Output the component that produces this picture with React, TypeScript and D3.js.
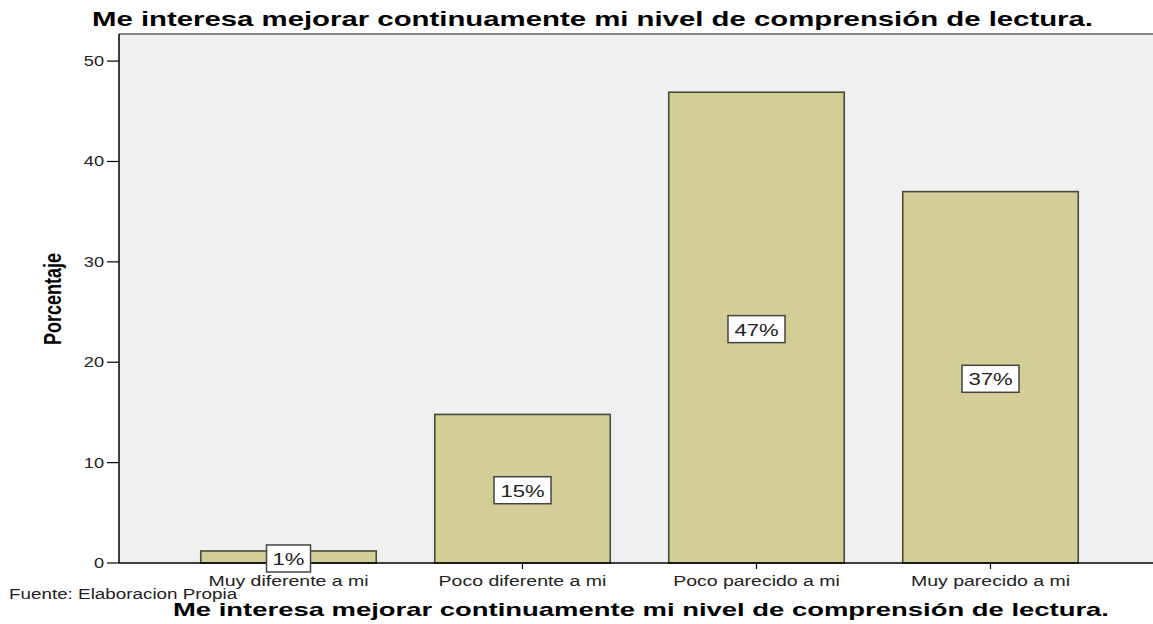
import React from "react";
import * as d3 from "d3";

const categories = ["Muy diferente a mi", "Poco diferente a mi", "Poco parecido a mi", "Muy parecido a mi"];
const values = [1.2, 14.8, 46.9, 37.0];
const valueLabels = ["1%", "15%", "47%", "37%"];
const yTicks = [0, 10, 20, 30, 40, 50];
const titleText = "Me interesa mejorar continuamente mi nivel de comprensión de lectura.";
const yAxisTitle = "Porcentaje";
const sourceText = "Fuente: Elaboracion Propia";

const W = 1153;
const H = 624;
const FONT = "Arial, 'Liberation Sans', sans-serif";
const SX = 1.3;

export default function App() {
  const plotLeft = 119;
  const plotTop = 34;
  const plotBottom = 563;
  const plotRight = 1153;

  const y = d3.scaleLinear().domain([0, 52.7]).range([plotBottom, plotTop]);
  const x = d3
    .scaleBand<string>()
    .domain(categories)
    .range([171.5, 1107.5])
    .paddingInner(0.25)
    .paddingOuter(0.125);

  return (
    <svg
      width={W}
      height={H}
      style={{ position: "absolute", left: 0, top: 0, background: "#fff" }}
      fontFamily={FONT}
    >
      <rect x={0} y={0} width={W} height={H} fill="#fff" />
      {/* Title */}
      <text
        x={92}
        y={26}
        textLength={1001}
        lengthAdjust="spacingAndGlyphs"
        fontWeight="bold"
        fontSize={21}
        fill="#000"
      >
        {titleText}
      </text>
      {/* plot background */}
      <rect x={plotLeft} y={plotTop} width={plotRight - plotLeft} height={plotBottom - plotTop} fill="#f0f0f0" />
      <line x1={plotLeft} x2={plotRight} y1={plotTop} y2={plotTop} stroke="#8a8a8a" strokeWidth={2} />
      {/* bars */}
      {categories.map((c, i) => (
        <g key={c}>
          <rect
            x={x(c)!}
            y={y(values[i])}
            width={x.bandwidth()}
            height={y(0) - y(values[i])}
            fill="#d3ce97"
            stroke="#4a4a3a"
            strokeWidth={1.6}
          />
        </g>
      ))}
      {/* axes */}
      <line x1={plotLeft} x2={plotLeft} y1={plotTop} y2={plotBottom} stroke="#000" strokeWidth={1.5} />
      <line x1={plotLeft} x2={plotRight} y1={plotBottom} y2={plotBottom} stroke="#000" strokeWidth={1.5} />
      {yTicks.map((t) => (
        <g key={t}>
          <line x1={107} x2={plotLeft} y1={y(t)} y2={y(t)} stroke="#000" strokeWidth={1.2} />
          <text
            transform={`translate(104,${y(t) + 5}) scale(${SX},1)`}
            textAnchor="end"
            fontSize={14}
            fill="#222"
          >
            {t}
          </text>
        </g>
      ))}
      {categories.map((c) => {
        const cx = x(c)! + x.bandwidth() / 2;
        return (
          <g key={c}>
            <line x1={cx} x2={cx} y1={plotBottom} y2={plotBottom + 6} stroke="#000" strokeWidth={1.2} />
            <text transform={`translate(${cx},586) scale(${SX},1)`} textAnchor="middle" fontSize={15} fill="#222">
              {c}
            </text>
          </g>
        );
      })}
      {/* value labels */}
      {categories.map((c, i) => {
        const cx = x(c)! + x.bandwidth() / 2;
        const cy = y(values[i] / 2) + 1.5;
        const bw = 18 + 13 * valueLabels[i].length;
        const bh = 27;
        return (
          <g key={c + "lbl"}>
            <rect x={cx - bw / 2} y={cy - bh / 2} width={bw} height={bh} fill="#fff" stroke="#444" strokeWidth={1.5} />
            <text transform={`translate(${cx},${cy + 6.5}) scale(${SX},1)`} textAnchor="middle" fontSize={17} fill="#222">
              {valueLabels[i]}
            </text>
          </g>
        );
      })}
      {/* y axis title */}
      <text
        transform={`translate(61,299) scale(${SX},1) rotate(-90)`}
        textAnchor="middle"
        fontWeight="bold"
        fontSize={18}
        fill="#000"
      >
        {yAxisTitle}
      </text>
      {/* source */}
      <text transform={`translate(9,599) scale(${SX},1)`} fontSize={14.5} fill="#222">
        {sourceText}
      </text>
      {/* x axis title */}
      <text
        x={173}
        y={616}
        textLength={936}
        lengthAdjust="spacingAndGlyphs"
        fontWeight="bold"
        fontSize={19}
        fill="#000"
      >
        {titleText}
      </text>
    </svg>
  );
}
